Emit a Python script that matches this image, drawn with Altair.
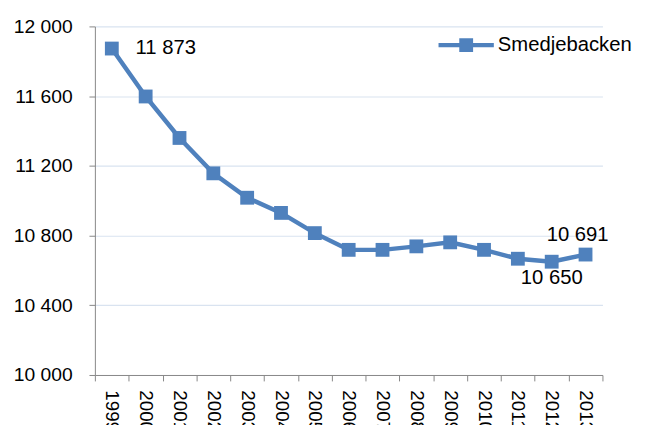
import altair as alt
import pandas as pd

years = ["1999", "2000", "2001", "2002", "2003", "2004", "2005", "2006",
         "2007", "2008", "2009", "2010", "2011", "2012", "2013"]
population = [11873, 11598, 11360, 11157, 11017, 10930, 10814, 10718,
              10718, 10738, 10761, 10718, 10667, 10650, 10691]
series_name = "Smedjebacken"
y_ticks = [10000, 10400, 10800, 11200, 11600, 12000]

BLUE = "#4F81BD"
FONT = "Liberation Sans"

df = pd.DataFrame({"year": years, "value": population, "series": series_name})
df["label"] = df["value"].map(lambda v: f"{v:,}".replace(",", " "))

legend_path = "M-1,-0.075H1V0.075H-1Z M-0.25,-0.25H0.25V0.25H-0.25Z"

x_enc = alt.X("year:N", sort=years, title=None,
              scale=alt.Scale(paddingInner=0, paddingOuter=0),
              axis=alt.Axis(labelAngle=90, tickBand="extent", grid=False,
                            domainColor="#868686", tickColor="#868686",
                            tickSize=6, labelPadding=9, labelFont=FONT,
                            labelFontSize=19, labelColor="#000000"))
y_enc = alt.Y("value:Q", title=None,
              scale=alt.Scale(domain=[10000, 12000], nice=False, zero=False),
              axis=alt.Axis(values=y_ticks, grid=True, gridColor="#D9E3F0",
                            gridWidth=1.2, domainColor="#868686",
                            tickColor="#868686", tickSize=6, labelPadding=17,
                            labelFont=FONT, labelFontSize=19.5,
                            labelColor="#000000",
                            labelExpr="replace(format(datum.value, ','), ',', ' ')"))

base = alt.Chart(df)

line = base.mark_line(strokeWidth=4.5, color=BLUE,
                      point=alt.OverlayMarkDef(shape="square", size=196,
                                               filled=True, color=BLUE,
                                               opacity=1)).encode(
    x=x_enc, y=y_enc,
    color=alt.Color("series:N", title=None,
                    scale=alt.Scale(range=[BLUE]),
                    legend=alt.Legend(orient="none", legendX=348, legendY=-9,
                                      padding=0, symbolType=legend_path,
                                      symbolSize=3136, symbolFillColor=BLUE,
                                      symbolStrokeColor=BLUE,
                                      symbolStrokeWidth=0, symbolOpacity=1,
                                      labelFont=FONT, labelFontSize=20.5,
                                      labelColor="#000000", labelOffset=4,
                                      labelLimit=300)),
)

lab_first = base.transform_filter(alt.datum.year == "1999").mark_text(
    align="left", baseline="middle", dx=24, font=FONT, fontSize=20.5,
    color="#000000").encode(x=alt.X("year:N", sort=years),
                            y="value:Q", text="label:N")
lab_min = base.transform_filter(alt.datum.year == "2012").mark_text(
    align="center", baseline="middle", dx=0, dy=17, font=FONT, fontSize=20.5,
    color="#000000").encode(x=alt.X("year:N", sort=years),
                            y="value:Q", text="label:N")
lab_last = base.transform_filter(alt.datum.year == "2013").mark_text(
    align="center", baseline="middle", dx=-8, dy=-20, font=FONT, fontSize=20.5,
    color="#000000").encode(x=alt.X("year:N", sort=years),
                            y="value:Q", text="label:N")

chart = alt.layer(line, lab_first, lab_min, lab_last).properties(
    width=514, height=353,
    autosize=alt.AutoSizeParams(type="none"),
    padding={"left": 88, "top": 16, "right": 36, "bottom": 48},
    background="#FFFFFF",
).configure_view(stroke=None)

chart.save("out.html", embed_options={"renderer": "svg", "actions": False})
